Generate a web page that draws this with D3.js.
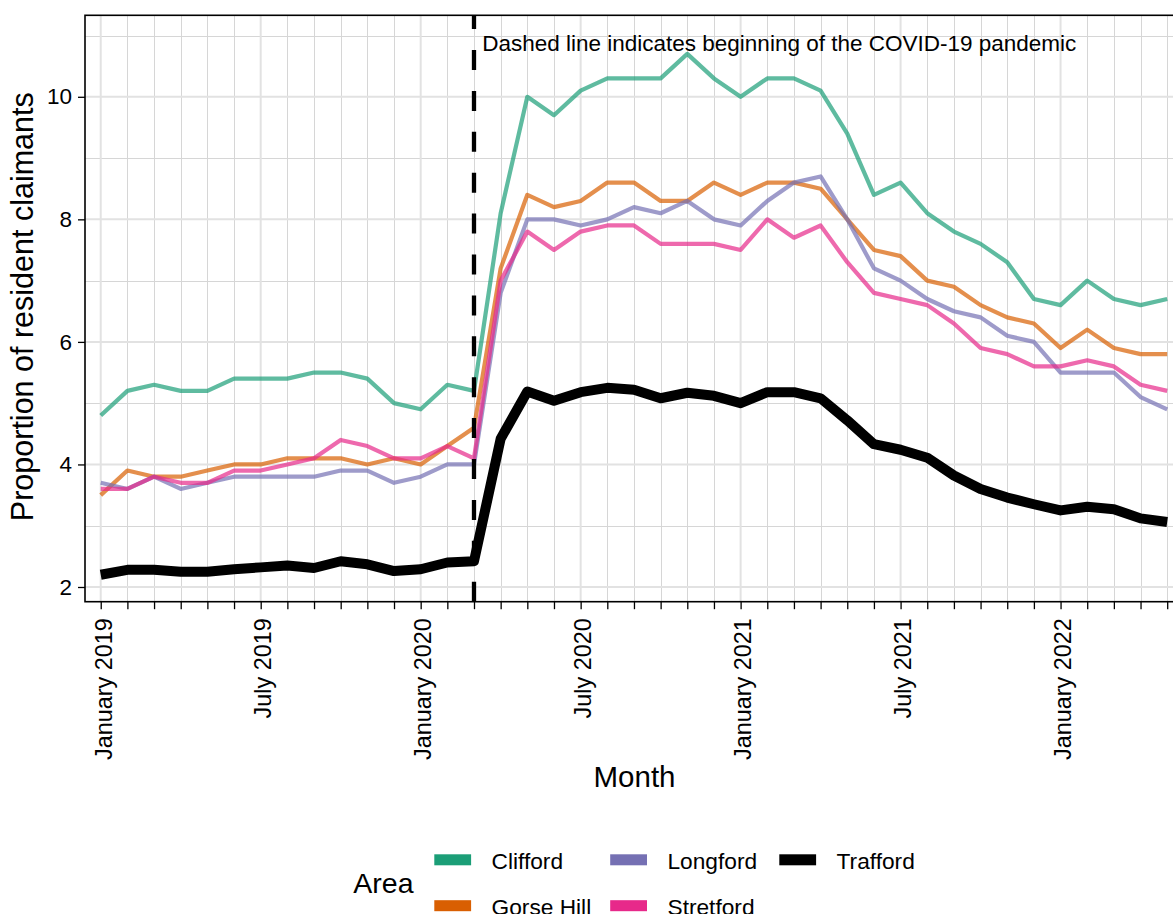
<!DOCTYPE html>
<html>
<head>
<meta charset="utf-8">
<script src="https://cdn.jsdelivr.net/npm/d3@7"></script>
<style>
  html, body { margin: 0; padding: 0; background: #fff; }
  svg { display: block; font-family: "Liberation Sans", Arial, sans-serif; }
</style>
</head>
<body>
<svg id="chart" width="1173" height="914"></svg>
<script>
// ---------------- DATA ----------------
const months = [
  "January 2019","February 2019","March 2019","April 2019","May 2019","June 2019",
  "July 2019","August 2019","September 2019","October 2019","November 2019","December 2019",
  "January 2020","February 2020","March 2020","April 2020","May 2020","June 2020",
  "July 2020","August 2020","September 2020","October 2020","November 2020","December 2020",
  "January 2021","February 2021","March 2021","April 2021","May 2021","June 2021",
  "July 2021","August 2021","September 2021","October 2021","November 2021","December 2021",
  "January 2022","February 2022","March 2022","April 2022","May 2022"
];
const areas = ["Clifford", "Gorse Hill", "Longford", "Stretford", "Trafford"];
const clifford = [4.8,5.2,5.3,5.2,5.2,5.4,5.4,5.4,5.5,5.5,5.4,5.0,
  4.9,5.3,5.2,8.1,10.0,9.7,10.1,10.3,10.3,10.3,10.7,10.3,
  10.0,10.3,10.3,10.1,9.4,8.4,8.6,8.1,7.8,7.6,7.3,6.7,
  6.6,7.0,6.7,6.6,6.7];
const gorseHill = [3.5,3.9,3.8,3.8,3.9,4.0,4.0,4.1,4.1,4.1,4.0,4.1,
  4.0,4.3,4.6,7.2,8.4,8.2,8.3,8.6,8.6,8.3,8.3,8.6,
  8.4,8.6,8.6,8.5,8.0,7.5,7.4,7.0,6.9,6.6,6.4,6.3,
  5.9,6.2,5.9,5.8,5.8];
const longford = [3.7,3.6,3.8,3.6,3.7,3.8,3.8,3.8,3.8,3.9,3.9,3.7,
  3.8,4.0,4.0,6.8,8.0,8.0,7.9,8.0,8.2,8.1,8.3,8.0,
  7.9,8.3,8.6,8.7,8.0,7.2,7.0,6.7,6.5,6.4,6.1,6.0,
  5.5,5.5,5.5,5.1,4.9];
const stretford = [3.6,3.6,3.8,3.7,3.7,3.9,3.9,4.0,4.1,4.4,4.3,4.1,
  4.1,4.3,4.1,7.0,7.8,7.5,7.8,7.9,7.9,7.6,7.6,7.6,
  7.5,8.0,7.7,7.9,7.3,6.8,6.7,6.6,6.3,5.9,5.8,5.6,
  5.6,5.7,5.6,5.3,5.2];
const trafford = [2.20,2.28,2.28,2.25,2.25,2.29,2.32,2.35,2.31,2.42,2.37,2.26,
  2.29,2.40,2.42,4.42,5.19,5.04,5.18,5.25,5.22,5.08,5.17,5.12,
  5.00,5.18,5.18,5.08,4.72,4.33,4.24,4.11,3.82,3.60,3.46,3.35,
  3.25,3.31,3.27,3.12,3.06];
const seriesValues = [clifford, gorseHill, longford, stretford, trafford];
const colors = ["#1B9E77", "#D95F02", "#7570B3", "#E7298A", "#000000"];
const yTicks = [2, 4, 6, 8, 10];
const covidStart = "March 2020";
const annotation = "Dashed line indicates beginning of the COVID-19 pandemic";
const xTitle = "Month";
const yTitle = "Proportion of resident claimants";
const legendTitle = "Area";

// ---------------- LAYOUT ----------------
const svg = d3.select("#chart");
const P = { left: 85, right: 1184, top: 15.3, bottom: 601.7 };
const x = d3.scaleLinear().domain([-0.59, 40.63]).range([P.left, P.right]);
const y = d3.scaleLinear().domain([1.76, 11.33]).range([P.bottom, P.top]);
const idx = d3.range(months.length);
const isMajor = i => months[i].startsWith("January") || months[i].startsWith("July");

// grid
const grid = svg.append("g");
const yMinor = d3.range(3, 12, 2);
grid.selectAll("line.ymin").data(yMinor).join("line")
  .attr("x1", P.left).attr("x2", P.right)
  .attr("y1", d => Math.round(y(d)) + 0.5).attr("y2", d => Math.round(y(d)) + 0.5)
  .attr("stroke", "#d6d6d6").attr("stroke-width", 1);
grid.selectAll("line.xmin").data(idx.filter(i => !isMajor(i))).join("line")
  .attr("y1", P.top).attr("y2", P.bottom)
  .attr("x1", d => Math.round(x(d)) + 0.5).attr("x2", d => Math.round(x(d)) + 0.5)
  .attr("stroke", "#d6d6d6").attr("stroke-width", 1);
grid.selectAll("line.ymaj").data(yTicks).join("line")
  .attr("x1", P.left).attr("x2", P.right)
  .attr("y1", d => y(d)).attr("y2", d => y(d))
  .attr("stroke", "#e2e2e2").attr("stroke-width", 2);
grid.selectAll("line.xmaj").data(idx.filter(isMajor)).join("line")
  .attr("y1", P.top).attr("y2", P.bottom)
  .attr("x1", d => x(d)).attr("x2", d => x(d))
  .attr("stroke", "#e2e2e2").attr("stroke-width", 2);

// lines
const line = d3.line().x((d, i) => x(i)).y(d => y(d));
const lg = svg.append("g");
seriesValues.forEach((vals, k) => {
  const thick = areas[k] === "Trafford";
  lg.append("path").datum(vals)
    .attr("d", line)
    .attr("fill", "none")
    .attr("stroke", colors[k])
    .attr("stroke-opacity", thick ? 1 : 0.7)
    .attr("stroke-width", thick ? 10 : 4.2)
    .attr("stroke-linejoin", "round")
    .attr("stroke-linecap", "butt");
});

// covid dashed line (drawn from bottom upward)
const cx = x(months.indexOf(covidStart));
svg.append("line")
  .attr("x1", cx).attr("x2", cx)
  .attr("y1", P.bottom).attr("y2", P.top)
  .attr("stroke", "#000").attr("stroke-width", 4.3)
  .attr("stroke-dasharray", "20,20.9");

svg.append("text")
  .attr("x", cx + 8.2).attr("y", 51)
  .attr("font-size", 22.5).attr("fill", "#000")
  .text(annotation);

// panel border
svg.append("rect")
  .attr("x", P.left).attr("y", P.top)
  .attr("width", P.right - P.left).attr("height", P.bottom - P.top)
  .attr("fill", "none").attr("stroke", "#000").attr("stroke-width", 1.6);

// y axis
const yAxis = svg.append("g")
  .attr("transform", `translate(${P.left},0)`)
  .call(d3.axisLeft(y).tickValues(yTicks).tickSize(7).tickPadding(6).tickFormat(d3.format("d")));
yAxis.select(".domain").remove();
yAxis.selectAll(".tick line").attr("stroke", "#000").attr("stroke-width", 1.3);
yAxis.selectAll(".tick text").attr("font-size", 22.5).attr("fill", "#000")
  .attr("font-family", "'Liberation Sans', Arial, sans-serif");

// x axis
const xAxis = svg.append("g")
  .attr("transform", `translate(0,${P.bottom})`)
  .call(d3.axisBottom(x).tickValues(idx).tickSize(7.5)
    .tickFormat(i => isMajor(i) ? months[i] : ""));
xAxis.select(".domain").remove();
xAxis.selectAll(".tick line").attr("stroke", "#000").attr("stroke-width", 1.3);
xAxis.selectAll(".tick text")
  .attr("font-size", 23.4).attr("fill", "#000")
  .attr("font-family", "'Liberation Sans', Arial, sans-serif")
  .attr("text-anchor", "end")
  .attr("transform", "translate(0,16.6) rotate(-90)")
  .attr("x", 0).attr("y", 0).attr("dy", "0.44em");

// axis titles
svg.append("text")
  .attr("x", (P.left + P.right) / 2).attr("y", 787)
  .attr("text-anchor", "middle").attr("font-size", 29.5).attr("fill", "#000")
  .text(xTitle);
svg.append("text")
  .attr("transform", `translate(32.5,306.7) rotate(-90)`)
  .attr("text-anchor", "middle").attr("font-size", 30.5).attr("fill", "#000")
  .text(yTitle);

// legend
const leg = svg.append("g");
leg.append("text").attr("x", 353.3).attr("y", 893.3)
  .attr("font-size", 28.5).attr("fill", "#000").text(legendTitle);
const colX = [434.3, 610.2, 779.3];
const rowY = [854.3, 900.2];
areas.forEach((a, k) => {
  const c = Math.floor(k / 2), r = k % 2;
  leg.append("rect")
    .attr("x", colX[c]).attr("y", rowY[r])
    .attr("width", 36.8).attr("height", 11)
    .attr("fill", colors[k]);
  leg.append("text")
    .attr("x", colX[c] + 57.3).attr("y", rowY[r] + 15)
    .attr("font-size", 22.7).attr("fill", "#000").text(a);
});
</script>
</body>
</html>
